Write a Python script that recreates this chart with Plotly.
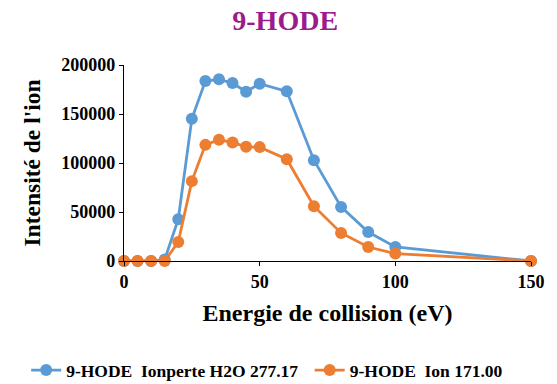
import plotly.graph_objects as go

# Collision energy (eV)
energy = [0, 5, 10, 15, 20, 25, 30, 35, 40, 45, 50, 60, 70, 80, 90, 100, 150]

# Ion intensities
loss_h2o_277 = [0, 0, 0, 1500, 42600, 145100, 183600, 185400, 181600, 172700,
                180900, 173100, 102900, 55200, 29600, 14300, 0]
ion_171 = [0, 0, 0, 0, 19400, 81500, 118500, 123700, 121000, 116500,
           116200, 103900, 55900, 28600, 14300, 7600, 0]

series_names = ["9-HODE\u00a0 Ionperte H2O 277.17", "9-HODE\u00a0 Ion 171.00"]
x_ticks = [0, 50, 100, 150]
y_ticks = [0, 50000, 100000, 150000, 200000]

font_family = "Liberation Serif, Times New Roman, serif"

fig = go.Figure()
for name, values, color, legend_id in [
    (series_names[0], loss_h2o_277, "#5B9BD5", "legend"),
    (series_names[1], ion_171, "#ED7D31", "legend2"),
]:
    fig.add_trace(go.Scatter(
        x=energy, y=values, name=f"<b>{name}</b>", mode="lines+markers",
        line=dict(color=color, width=2.8),
        marker=dict(color=color, size=12),
        cliponaxis=False, legend=legend_id,
    ))

legend_style = dict(orientation="h", xref="container", xanchor="left",
                    y=0.036, yref="container", yanchor="middle",
                    font=dict(size=17.5, family=font_family), itemwidth=30,
                    bgcolor="rgba(0,0,0,0)")

fig.update_layout(
    width=557, height=384,
    margin=dict(l=124, r=16, t=65, b=123),
    paper_bgcolor="white", plot_bgcolor="white",
    font=dict(family=font_family, color="black"),
    title=dict(text="<b>9-HODE</b>", x=0.512, xref="container", y=0.948, yref="container",
               xanchor="center", yanchor="middle",
               font=dict(size=28, color="#9B1B8C", family=font_family)),
    showlegend=True,
    legend=dict(x=0.047, **legend_style),
    legend2=dict(x=0.556, **legend_style),
)
fig.update_xaxes(
    range=[0, 150], tickvals=x_ticks, ticktext=[f"<b>{v}</b>" for v in x_ticks],
    showline=True, linecolor="black", linewidth=1.3, showgrid=False, zeroline=False,
    ticks="outside", ticklen=4, tickcolor="black",
    tickfont=dict(size=18, family=font_family),
    title=dict(text="<b>Energie de collision (eV)</b>", font=dict(size=24, family=font_family), standoff=13),
)
fig.update_yaxes(
    range=[0, 200000], tickvals=y_ticks, ticktext=[f"<b>{v}</b>" for v in y_ticks],
    showline=True, linecolor="black", linewidth=1.3, showgrid=False, zeroline=False,
    ticks="outside", ticklen=4, tickcolor="black",
    tickfont=dict(size=18, family=font_family),
    title=dict(text="<b>Intensité de l'ion</b>", font=dict(size=23.5, family=font_family), standoff=14),
)

fig.write_html("out.html")
